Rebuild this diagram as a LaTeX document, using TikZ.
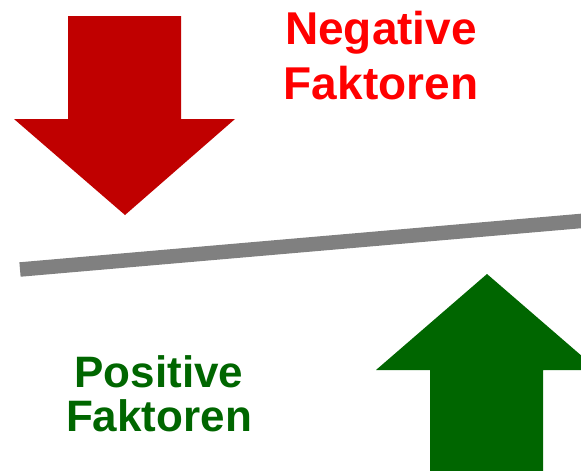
\documentclass[tikz,border=0pt]{standalone}
\usepackage{fontspec}
\setmainfont{Liberation Sans}
\usetikzlibrary{positioning}

\definecolor{negtext}{HTML}{FF0000}
\definecolor{negarrow}{HTML}{C00000}
\definecolor{posgreen}{HTML}{006600}
\definecolor{beamgray}{HTML}{808080}

\begin{document}
\begin{tikzpicture}[
            x=1pt, y=-1pt,
            label/.style={
                inner sep=0pt,
                align=center,
                font=\fontsize{46}{55}\selectfont\bfseries
            },
            downarrow/.style={fill=negarrow},
            uparrow/.style={fill=posgreen},
            beam/.style={draw=beamgray, line width=14.5pt}
        ]
        \useasboundingbox (0,0) rectangle (581,471);
        \clip (0,0) rectangle (581,471);

        % Negative Faktoren (von oben)
        \fill[downarrow] (68,16) -- (181,16) -- (181,119) -- (235,119)
            -- (125,215) -- (14,119) -- (68,119) -- cycle;
        \node[label, text=negtext, anchor=base] (neg) at (381,99)
            {Negative\\Faktoren};

        % Waage
        \coordinate (beamleft) at (20,269.5);
        \coordinate (beamright) at (590,220.2);
        \draw[beam] (beamleft) -- (beamright);

        % Positive Faktoren (von unten)
        \fill[uparrow] (430,480) -- (430,370) -- (376,370) -- (487,274)
            -- (598,370) -- (543,370) -- (543,480) -- cycle;
        \node[label, text=posgreen, anchor=base,
            font=\fontsize{44}{44}\selectfont\bfseries] (pos) at (159,431)
            {Positive\\Faktoren};
\end{tikzpicture}
\end{document}
